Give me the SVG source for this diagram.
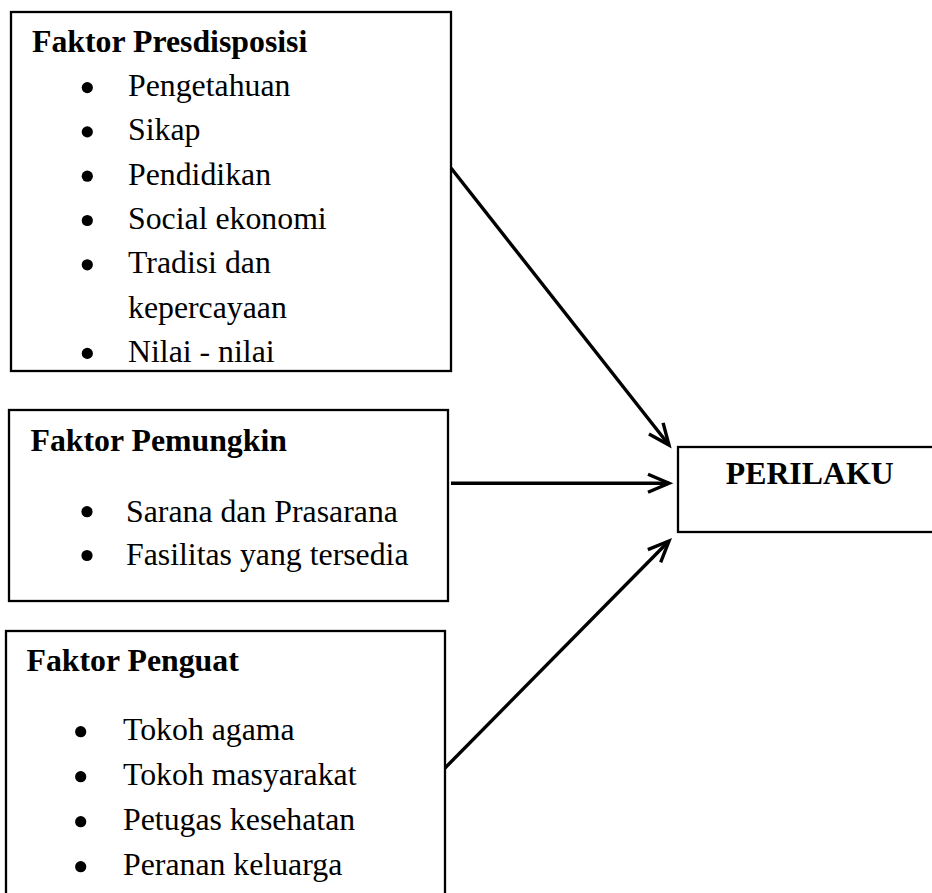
<svg xmlns="http://www.w3.org/2000/svg" width="932" height="893" viewBox="0 0 932 893">
<style>
.box{fill:#fff;stroke:#000;stroke-width:2.3}
.t{font-family:"Liberation Serif","Times New Roman",serif;font-size:31.8px;fill:#000}
.b{font-weight:bold}
.dot{fill:#000}
.con{stroke:#000;stroke-width:3.4;fill:none}
</style>
<defs>
<marker id="arr" markerUnits="userSpaceOnUse" markerWidth="30" markerHeight="30" viewBox="0 0 30 30" refX="23" refY="11" orient="auto">
<path d="M2 2 L23 11 L2 20" fill="none" stroke="#000" stroke-width="3.4" stroke-linejoin="miter"/>
</marker>
</defs>
<rect width="932" height="893" fill="#fff"/>
<g id="predisposisi">
<rect class="box" x="11" y="12" width="440" height="359"/>
<text class="t b" x="32" y="52">Faktor Presdisposisi</text>
<circle class="dot" cx="87.3" cy="87.6" r="5.6"/>
<text class="t" x="128" y="96">Pengetahuan</text>
<circle class="dot" cx="87.3" cy="131.9" r="5.6"/>
<text class="t" x="128" y="140.3">Sikap</text>
<circle class="dot" cx="87.3" cy="176.2" r="5.6"/>
<text class="t" x="128" y="184.6">Pendidikan</text>
<circle class="dot" cx="87.3" cy="220.5" r="5.6"/>
<text class="t" x="128" y="228.9">Social ekonomi</text>
<circle class="dot" cx="87.3" cy="264.8" r="5.6"/>
<text class="t" x="128" y="273.2">Tradisi dan</text>
<text class="t" x="128" y="317.5">kepercayaan</text>
<circle class="dot" cx="87.3" cy="353.4" r="5.6"/>
<text class="t" x="128" y="361.8">Nilai - nilai</text>
</g>
<g id="pemungkin">
<rect class="box" x="9" y="410" width="439" height="191"/>
<text class="t b" x="30.5" y="450.7">Faktor Pemungkin</text>
<circle class="dot" cx="87" cy="511.7" r="5.6"/>
<text class="t" x="126" y="521.7">Sarana dan Prasarana</text>
<circle class="dot" cx="87" cy="555.5" r="5.6"/>
<text class="t" x="126" y="565">Fasilitas yang tersedia</text>
</g>
<g id="penguat">
<rect class="box" x="6" y="631" width="439" height="280"/>
<text class="t b" x="26.5" y="671">Faktor Penguat</text>
<circle class="dot" cx="80.7" cy="731.7" r="5.6"/>
<text class="t" x="123" y="740">Tokoh agama</text>
<circle class="dot" cx="80.7" cy="776.7" r="5.6"/>
<text class="t" x="123" y="785">Tokoh masyarakat</text>
<circle class="dot" cx="80.7" cy="821.7" r="5.6"/>
<text class="t" x="123" y="830">Petugas kesehatan</text>
<circle class="dot" cx="80.7" cy="866.7" r="5.6"/>
<text class="t" x="123" y="875">Peranan keluarga</text>
</g>
<g id="perilaku">
<rect class="box" x="678" y="447" width="270" height="85"/>
<text class="t b" x="809.7" y="484.3" text-anchor="middle">PERILAKU</text>
</g>
<g id="connectors">
<line class="con" x1="451" y1="168" x2="669" y2="445" marker-end="url(#arr)"/>
<line class="con" x1="451" y1="483.3" x2="669" y2="483.3" marker-end="url(#arr)"/>
<line class="con" x1="445" y1="768" x2="669" y2="541" marker-end="url(#arr)"/>
</g>
</svg>
